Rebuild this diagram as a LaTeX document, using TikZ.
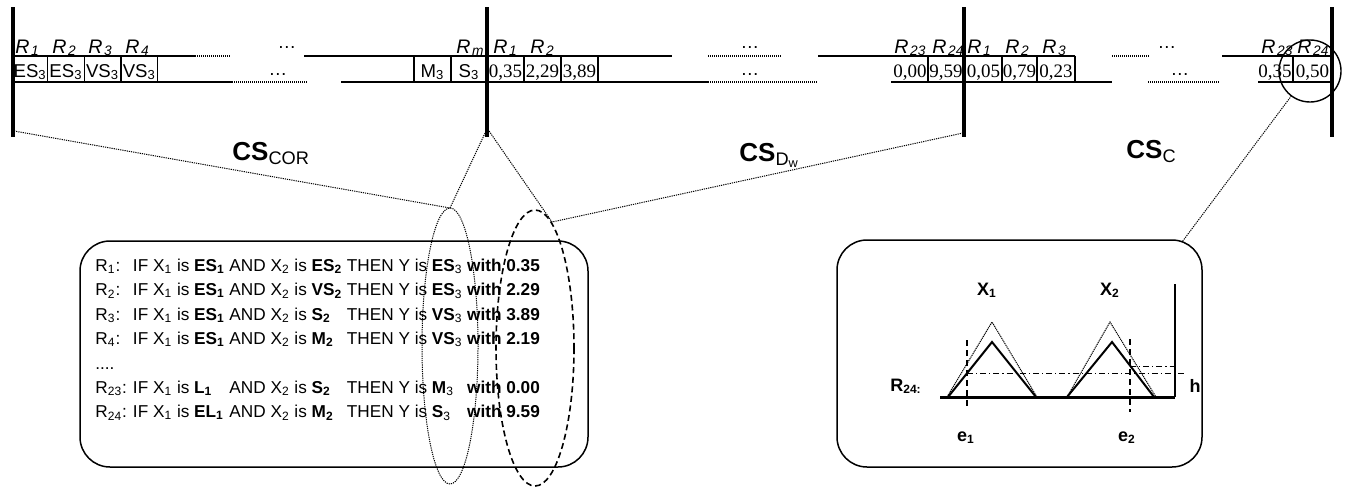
\documentclass[tikz,border=0pt]{standalone}
\usepackage{fontspec}
\setmainfont{Liberation Sans}
\newfontfamily\numfont{Liberation Serif}
\usetikzlibrary{calc, positioning}

\newcommand{\bsub}[2]{\textbf{#1\textsubscript{#2}}}
\newcommand{\bsubn}[2]{\textbf{#1}\textsubscript{#2}}
\newcommand{\rlab}[1]{\textit{R}\kern0.08em\textsubscript{\textit{#1}}}

\begin{document}
\begin{tikzpicture}[
    x=0.5pt, y=-0.5pt,
    bar/.style={line width=2pt},
    rowline/.style={line width=1pt},
    dotrow/.style={line width=1pt, dash pattern=on 0.5pt off 0.5pt},
    cellsep/.style={line width=0.6pt},
    zoomline/.style={line width=0.5pt, dash pattern=on 0.6pt off 0.5pt},
    rlabel/.style={anchor=base west, inner sep=0pt, font=\fontsize{9.8}{11}\selectfont},
    cell/.style={anchor=base, inner sep=0pt, font=\fontsize{9.3}{10}\selectfont},
    numcell/.style={anchor=base, inner sep=0pt, font=\fontsize{9.5}{11}\numfont},
    cslabel/.style={anchor=base west, inner sep=0pt, font=\fontsize{13}{15}\selectfont},
    mflabel/.style={inner sep=0pt, font=\fontsize{9}{10}\bfseries}
]
    \useasboundingbox (0,0) rectangle (1347,487);

    % 1. Barras verticais que separam os segmentos
    \foreach \x/\n in {13/A, 487/B, 964/C, 1332/D}
        \draw[bar] (\x,7) -- (\x,137) coordinate (bar\n);

    % 2. Segmento CS_COR
    \draw[rowline] (13,55.5) -- (195,55.5);
    \draw[dotrow] (195,55.5) -- (230,55.5);
    \draw[rowline] (304,55.5) -- (487,55.5);
    \draw[rowline] (13,82) -- (232,82);
    \draw[dotrow] (232,82) -- (307,82);
    \draw[rowline] (341,82) -- (487,82);
    \foreach \x in {47.7, 84.3, 121, 157.7, 414, 451}
        \draw[cellsep] (\x,55.5) -- (\x,82);

    \node[rlabel] (a1) at (15,53) {\rlab{1}};
    \node[rlabel] (a2) at (52,53) {\rlab{2}};
    \node[rlabel] (a3) at (88,53) {\rlab{3}};
    \node[rlabel] (a4) at (125,53) {\rlab{4}};
    \node[rlabel] (am) at (456,53) {\rlab{m}};
    \node[cell] (ta) at (287,48) {\ldots};
    \node[cell] (ba) at (278,75) {\ldots};

    \node[cell] (va1) at (30.2,77) {ES\textsubscript{3}};
    \node[cell] (va2) at (66,77) {ES\textsubscript{3}};
    \node[cell] (va3) at (102.6,77) {VS\textsubscript{3}};
    \node[cell] (va4) at (139.3,77) {VS\textsubscript{3}};
    \node[cell] (vam1) at (432.5,77) {M\textsubscript{3}};
    \node[cell] (vam) at (469,77) {S\textsubscript{3}};

    % 3. Segmento CS_Dw
    \draw[rowline] (487,55.5) -- (672,55.5);
    \draw[dotrow] (708,55.5) -- (782,55.5);
    \draw[rowline] (818,55.5) -- (964,55.5);
    \draw[rowline] (487,82) -- (708,82);
    \draw[dotrow] (708,82) -- (817,82);
    \draw[rowline] (891,82) -- (964,82);
    \foreach \x in {524, 561, 598, 928}
        \draw[cellsep] (\x,55.5) -- (\x,82);

    \node[rlabel] (b1) at (493,53) {\rlab{1}};
    \node[rlabel] (b2) at (530,53) {\rlab{2}};
    \node[rlabel] (b23) at (894,53) {\rlab{23}};
    \node[rlabel] (b24) at (932,53) {\rlab{24}};
    \node[cell] (tb) at (750,48) {\ldots};
    \node[cell] (bb) at (750,75) {\ldots};

    \node[numcell] (vb1) at (505.5,77) {0,35};
    \node[numcell] (vb2) at (542.5,77) {2,29};
    \node[numcell] (vb3) at (579.5,77) {3,89};
    \node[numcell] (vb23) at (910,77) {0,00};
    \node[numcell] (vb24) at (946,77) {9,59};

    % 4. Segmento CS_C
    \draw[rowline] (965,55.5) -- (1075,55.5);
    \draw[dotrow] (1112,55.5) -- (1150,55.5);
    \draw[rowline] (1222,55.5) -- (1332,55.5);
    \draw[rowline] (965,82) -- (1112,82);
    \draw[dotrow] (1148,82) -- (1220,82);
    \draw[rowline] (1258,82) -- (1332,82);
    \foreach \x in {1002, 1037, 1075, 1293}
        \draw[cellsep] (\x,55.5) -- (\x,82);

    \node[rlabel] (c1) at (967,53) {\rlab{1}};
    \node[rlabel] (c2) at (1005,53) {\rlab{2}};
    \node[rlabel] (c3) at (1042,53) {\rlab{3}};
    \node[rlabel] (c23) at (1261,53) {\rlab{23}};
    \node[rlabel] (c24) at (1297,53) {\rlab{24}};
    \node[cell] (tc) at (1167,48) {\ldots};
    \node[cell] (bc) at (1180,75) {\ldots};

    \node[numcell] (vc1) at (983.5,77) {0,05};
    \node[numcell] (vc2) at (1019.5,77) {0,79};
    \node[numcell] (vc3) at (1056,77) {0,23};
    \node[numcell] (vc23) at (1275,77) {0,35};
    \node[numcell] (vc24) at (1312.5,77) {0,50};

    % 5. Rotulos dos segmentos
    \node[cslabel] (cscor) at (232,160) {\textbf{CS}\textsubscript{COR}};
    \node[cslabel] (csdw) at (739,161) {\textbf{CS}\textsubscript{D\textsubscript{w}}};
    \node[cslabel] (csc) at (1126,158) {\textbf{CS}\textsubscript{C}};

    % 6. Caixa das regras e elipses
    \draw[line width=0.75pt, rounded corners=15pt] (80,241) rectangle (588,467);
    \node[anchor=north west, inner sep=0pt, font=\fontsize{8.6}{12.2}\selectfont] (rules) at (95,254) {%
        \begin{tabular}{@{}l@{\hspace{3pt}}l@{\hspace{2.3pt}}l@{\hspace{2.3pt}}l@{\hspace{2.3pt}}l@{}}
        R\textsubscript{1}: & IF X\textsubscript{1} is \bsub{ES}{1} & AND X\textsubscript{2} is \bsub{ES}{2} & THEN Y is \bsubn{ES}{3} & \textbf{with 0.35}\\
        R\textsubscript{2}: & IF X\textsubscript{1} is \bsub{ES}{1} & AND X\textsubscript{2} is \bsub{VS}{2} & THEN Y is \bsubn{ES}{3} & \textbf{with 2.29}\\
        R\textsubscript{3}: & IF X\textsubscript{1} is \bsub{ES}{1} & AND X\textsubscript{2} is \bsub{S}{2} & THEN Y is \bsubn{VS}{3} & \textbf{with 3.89}\\
        R\textsubscript{4}: & IF X\textsubscript{1} is \bsub{ES}{1} & AND X\textsubscript{2} is \bsub{M}{2} & THEN Y is \bsubn{VS}{3} & \textbf{with 2.19}\\
        .... & & & & \\
        R\textsubscript{23}: & IF X\textsubscript{1} is \bsub{L}{1} & AND X\textsubscript{2} is \bsub{S}{2} & THEN Y is \bsubn{M}{3} & \textbf{with 0.00}\\
        R\textsubscript{24}: & IF X\textsubscript{1} is \bsub{EL}{1} & AND X\textsubscript{2} is \bsub{M}{2} & THEN Y is \bsubn{S}{3} & \textbf{with 9.59}
        \end{tabular}};

    \draw[zoomline] (450,346) ellipse [x radius=28, y radius=138];
    \draw[line width=0.8pt, dash pattern=on 3pt off 1.8pt] (535,348) ellipse [x radius=39, y radius=138];
    \coordinate (ellA) at (450,208);
    \coordinate (ellB) at (552,222);

    % 7. Linhas de ampliacao (pontilhadas)
    \coordinate (fromA) at (14,131);
    \coordinate (fromB1) at (486,131);
    \coordinate (fromB2) at (489,131);
    \coordinate (fromC) at (963,133);
    \draw[zoomline] (fromA) -- (ellA);
    \draw[zoomline] (fromB1) -- (ellA);
    \draw[zoomline] (fromB2) -- (ellB);
    \draw[zoomline] (fromC) -- (ellB);

    \draw[line width=0.7pt] (1310,71) circle [radius=31];
    \coordinate (circ) at (1291.4,95.8);
    \coordinate (boxC) at (1182,242);
    \draw[zoomline] (circ) -- (boxC);

    % 8. Caixa da inferencia fuzzy de R24
    \draw[line width=0.75pt, rounded corners=15pt] (837,240) rectangle (1202,467);
    \draw[line width=1.5pt] (940,397) -- (1175,397);
    \draw[line width=0.8pt] (1175,397) -- (1175,284);
    \draw[line width=0.5pt, dash pattern=on 0.6pt off 0.4pt] (947,397) -- (992,322) -- (1037,397);
    \draw[line width=0.5pt, dash pattern=on 0.6pt off 0.4pt] (1067,397) -- (1110,322) -- (1156,397);
    \draw[line width=1pt] (948,397) -- (992,342) -- (1036,397);
    \draw[line width=1pt] (1067,397) -- (1112,342) -- (1154,397);
    \draw[line width=0.6pt, dash pattern=on 3pt off 2pt] (967,340) -- (967,408);
    \draw[line width=0.6pt, dash pattern=on 3pt off 2pt] (1130,339) -- (1130,412);
    \draw[line width=0.5pt, dash pattern=on 3pt off 1.5pt on 0.6pt off 1.5pt] (967,373) -- (1185,373);
    \draw[line width=0.5pt, dash pattern=on 3pt off 1.5pt on 0.6pt off 1.5pt] (1130,366) -- (1178,366);

    \node[mflabel] (x1) at (987,290) {X\textsubscript{1}};
    \node[mflabel] (x2) at (1110,290) {X\textsubscript{2}};
    \node[mflabel] (r24) at (906,386) {R\textsubscript{24:}};
    \node[mflabel] (hh) at (1195,386) {h};
    \node[mflabel] (e1) at (966,438) {e\textsubscript{1}};
    \node[mflabel] (e2) at (1127,438) {e\textsubscript{2}};

\end{tikzpicture}
\end{document}
